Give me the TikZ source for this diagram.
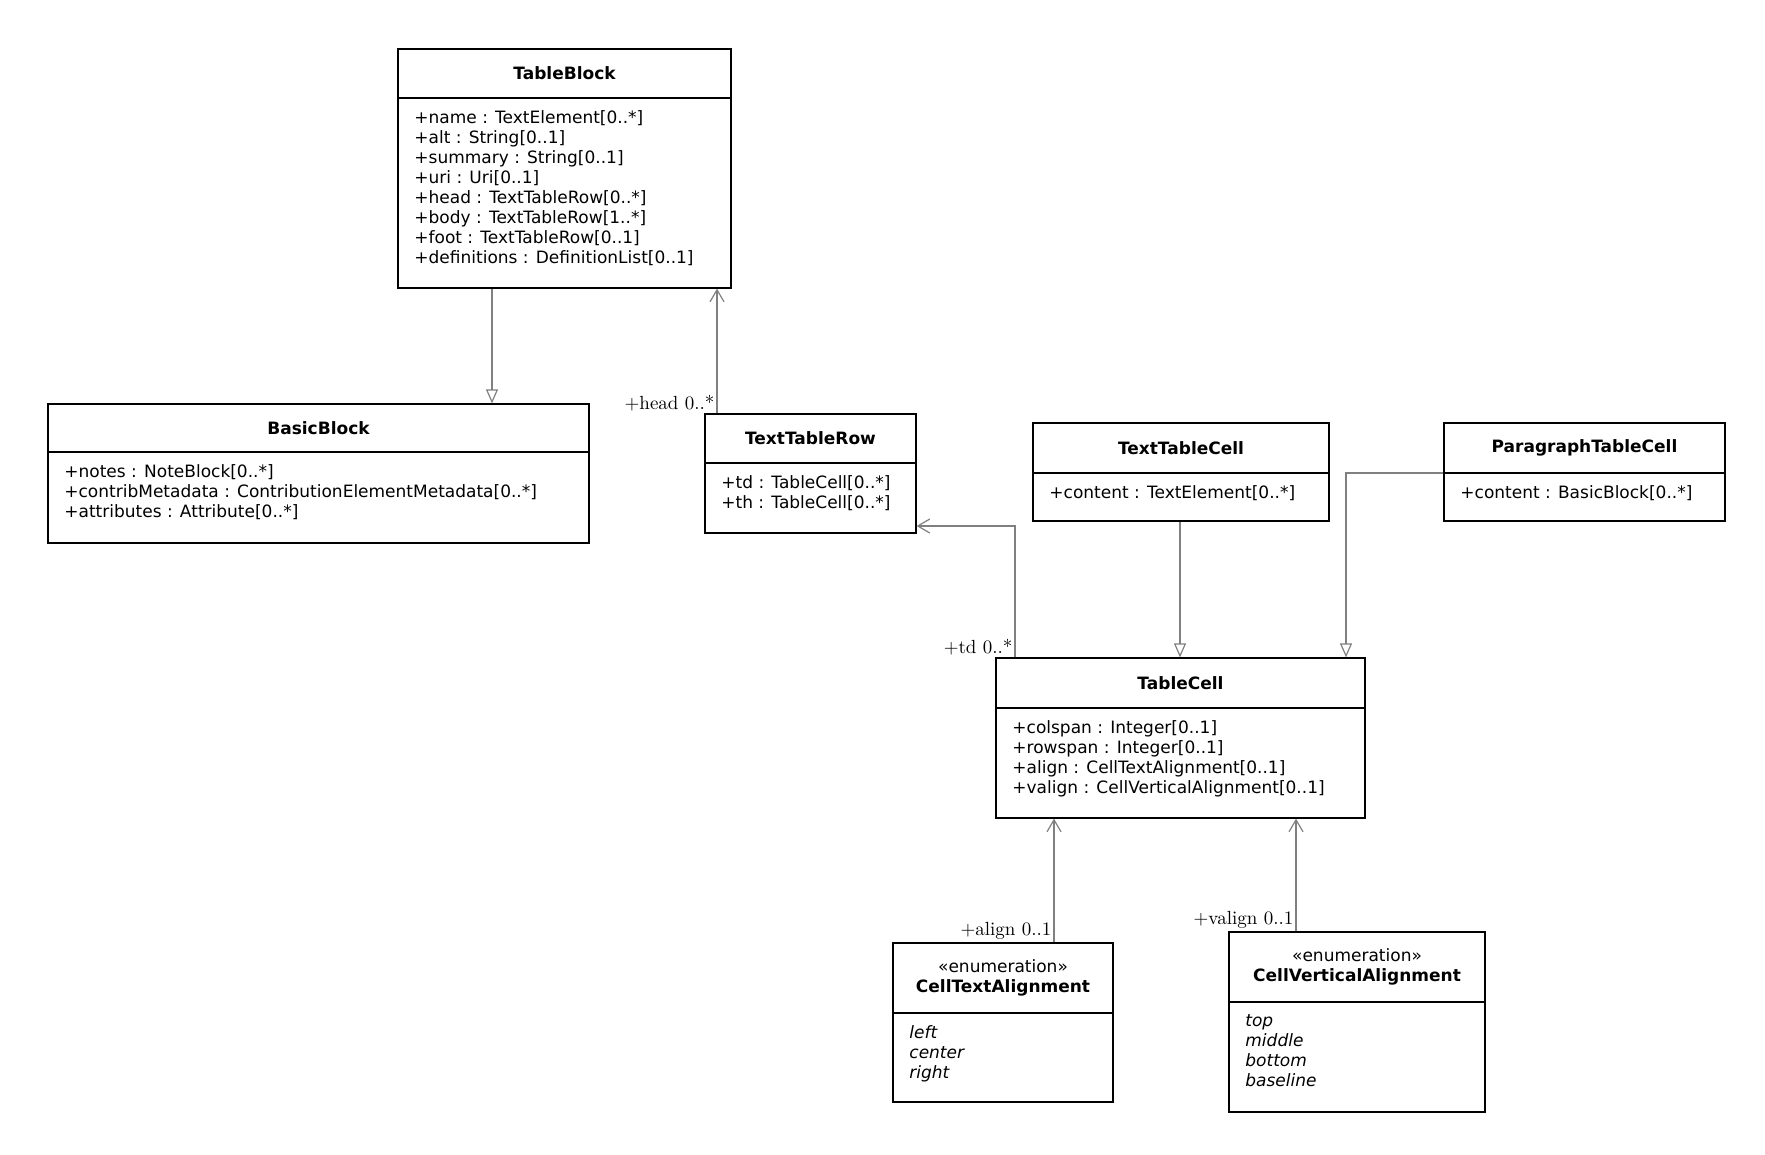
\documentclass[tikz,border=0pt]{standalone}
\usepackage{fontspec}
\setsansfont{DejaVu Sans}
\usetikzlibrary{arrows.meta,fit}
\tikzset{
  classbox/.style={draw, inner sep=0pt, line width=0.6pt},
  classtitle/.style={font=\sffamily\bfseries\fontsize{8.5}{10}\selectfont, align=center},
  classattr/.style={font=\sffamily\fontsize{8.5}{10}\selectfont, align=left, anchor=north west, inner sep=0pt},
  assoc/.style={draw=gray, line width=0.6pt, -{Straight Barb[length=6pt,width=7pt]}},
  generalize/.style={draw=gray, line width=0.6pt, -{Triangle[open,length=7pt,width=6pt,fill=white]}},
  rolelabel/.style={font=\fontsize{9.5}{11}\selectfont, inner sep=1pt}
}
% \umlclass{name}{x1}{y1}{x2}{y2}{header line}{title}{attributes}
\newcommand{\umlclass}[8]{
  \node[classbox, fit={(#2,#3) (#4,#5)}] (#1) {};
  \draw[line width=0.6pt] (#2,#6) -- (#4,#6);
  \node[classtitle] (#1-title) at ({(#2+#4)/2},{(#3+#6)/2}) {#7};
  \node[classattr] (#1-attrs) at (#2+16,#6+12) {#8};
}
\begin{document}
\begin{tikzpicture}[x=0.5pt,y=-0.5pt]
\useasboundingbox (0,0) rectangle (1765,1155);

%Classes
\umlclass{tableblock}{398}{49}{731}{288}{98}{TableBlock}{+name : TextElement[0..*]\\+alt : String[0..1]\\+summary : String[0..1]\\+uri : Uri[0..1]\\+head : TextTableRow[0..*]\\+body : TextTableRow[1..*]\\+foot : TextTableRow[0..1]\\+definitions : DefinitionList[0..1]}
\umlclass{basicblock}{48}{404}{589}{543}{452}{BasicBlock}{+notes : NoteBlock[0..*]\\+contribMetadata : ContributionElementMetadata[0..*]\\+attributes : Attribute[0..*]}
\umlclass{textrow}{705}{414}{916}{533}{463}{TextTableRow}{+td : TableCell[0..*]\\+th : TableCell[0..*]}
\umlclass{textcell}{1033}{423}{1329}{521}{473}{TextTableCell}{+content : TextElement[0..*]}
\umlclass{paracell}{1444}{423}{1725}{521}{473}{ParagraphTableCell}{+content : BasicBlock[0..*]}
\umlclass{tablecell}{996}{658}{1365}{818}{708}{TableCell}{+colspan : Integer[0..1]\\+rowspan : Integer[0..1]\\+align : CellTextAlignment[0..1]\\+valign : CellVerticalAlignment[0..1]}
\umlclass{textalign}{893}{943}{1113}{1102}{1013}{\mdseries«enumeration»\\CellTextAlignment}{\itshape left\\\itshape center\\\itshape right}
\umlclass{vertalign}{1229}{932}{1485}{1112}{1002}{\mdseries«enumeration»\\CellVerticalAlignment}{\itshape top\\\itshape middle\\\itshape bottom\\\itshape baseline}

%Generalizations
\draw[generalize] (tableblock.south -| 492,0) -- (basicblock.north -| 492,0);
\draw[generalize] (textcell.south -| 1180,0) -- (tablecell.north -| 1180,0);
\draw[generalize] (paracell.west |- 0,473) -| (tablecell.north -| 1346,0);

%Associations
\draw[assoc] (textrow.north -| 717,0) -- (tableblock.south -| 717,0)
  node[rolelabel, pos=0, anchor=south east] (headlabel) {+head 0..*};
\draw[assoc] (tablecell.north -| 1015,0) |- (textrow.east |- 0,526)
  node[rolelabel, pos=0, anchor=south east] (tdlabel) {+td 0..*};
\draw[assoc] (textalign.north -| 1054,0) -- (tablecell.south -| 1054,0)
  node[rolelabel, pos=0, anchor=south east] (alignlabel) {+align 0..1};
\draw[assoc] (vertalign.north -| 1296,0) -- (tablecell.south -| 1296,0)
  node[rolelabel, pos=0, anchor=south east] (valignlabel) {+valign 0..1};
\end{tikzpicture}
\end{document}
